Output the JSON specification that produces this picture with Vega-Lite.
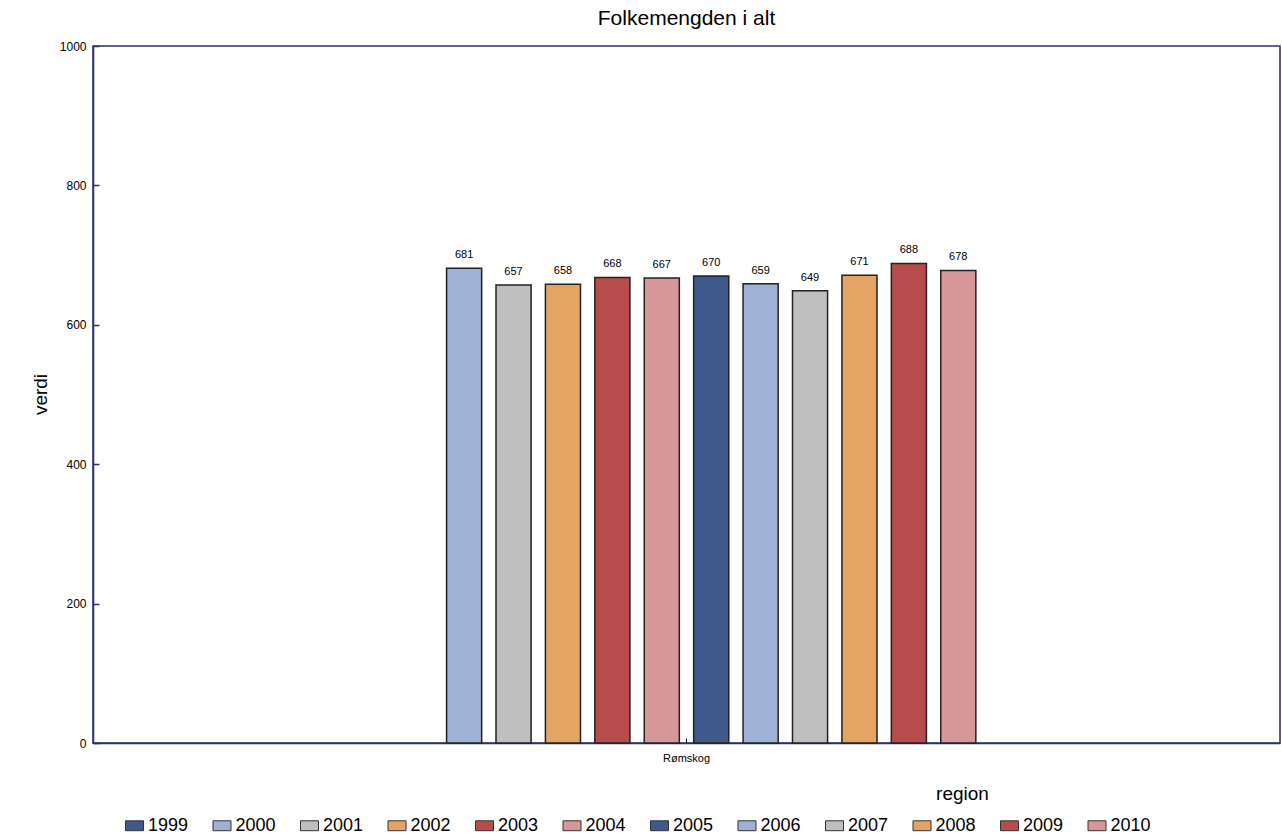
{
  "$schema": "https://vega.github.io/schema/vega-lite/v6.json",
  "width": 1187,
  "height": 697,
  "autosize": {"type": "none"},
  "padding": {"left": 93, "top": 46, "right": 2, "bottom": 92},
  "background": "white",
  "title": {"text": "Folkemengden i alt", "fontSize": 21, "font": "Liberation Sans", "fontWeight": "normal", "color": "#000000", "anchor": "middle", "offset": 11},
  "config": {
    "view": {"stroke": "#2b2f6e", "strokeWidth": 1.5},
    "font": "Liberation Sans",
    "axis": {"grid": false}
  },
  "data": {
    "values": [
      {"region": "Rømskog", "year": "1999", "verdi": null},
      {"region": "Rømskog", "year": "2000", "verdi": 681},
      {"region": "Rømskog", "year": "2001", "verdi": 657},
      {"region": "Rømskog", "year": "2002", "verdi": 658},
      {"region": "Rømskog", "year": "2003", "verdi": 668},
      {"region": "Rømskog", "year": "2004", "verdi": 667},
      {"region": "Rømskog", "year": "2005", "verdi": 670},
      {"region": "Rømskog", "year": "2006", "verdi": 659},
      {"region": "Rømskog", "year": "2007", "verdi": 649},
      {"region": "Rømskog", "year": "2008", "verdi": 671},
      {"region": "Rømskog", "year": "2009", "verdi": 688},
      {"region": "Rømskog", "year": "2010", "verdi": 678}
    ]
  },
  "encoding": {
    "x": {
      "field": "region", "type": "nominal",
      "scale": {"paddingInner": 0, "paddingOuter": 0.5},
      "axis": {
        "title": "region", "titleFontSize": 19, "titleFontWeight": "normal", "titleColor": "#000000",
        "titleX": 869, "titleY": 50, "titleAlign": "center", "titleBaseline": "middle",
        "labelAngle": 0, "labelFontSize": 11, "labelColor": "#000000", "labelPadding": 14,
        "tickSize": -5, "tickColor": "#000000", "domainColor": "#2b2f6e", "domainWidth": 1.5
      }
    },
    "xOffset": {
      "field": "year", "type": "nominal",
      "scale": {"domain": ["1999","2000","2001","2002","2003","2004","2005","2006","2007","2008","2009","2010"], "paddingInner": 0.29, "paddingOuter": 0.15}
    },
    "y": {
      "field": "verdi", "type": "quantitative",
      "scale": {"domain": [0, 1000], "nice": false},
      "axis": {
        "title": "verdi", "titleFontSize": 19, "titleFontWeight": "normal", "titleColor": "#000000",
        "titleX": -53, "titleY": 348, "titleAngle": 270, "titleAlign": "center", "titleBaseline": "middle",
        "values": [0, 200, 400, 600, 800, 1000], "format": "d",
        "labelFontSize": 12, "labelColor": "#000000", "labelPadding": 13,
        "tickSize": -6, "tickColor": "#2b2f6e", "tickWidth": 1.5, "domainColor": "#2b2f6e", "domainWidth": 1.5
      }
    }
  },
  "layer": [
    {
      "mark": {"type": "bar", "stroke": "#222222", "strokeWidth": 1.5},
      "encoding": {
        "color": {
          "field": "year", "type": "nominal",
          "scale": {
            "domain": ["1999","2000","2001","2002","2003","2004","2005","2006","2007","2008","2009","2010"],
            "range": ["#3f5a8a","#9fb1d5","#bfbfbf","#e3a464","#b84c4d","#d59798","#3f5a8a","#9fb1d5","#bfbfbf","#e3a464","#b84c4d","#d59798"]
          },
          "legend": {
            "orient": "none", "legendX": 32, "legendY": 770, "direction": "horizontal", "columns": 12,
            "title": null, "symbolType": "M-1,-0.55H1V0.55H-1Z", "symbolSize": 324, "symbolStrokeColor": "#333333", "symbolStrokeWidth": 1,
            "labelFontSize": 18, "labelColor": "#000000", "labelOffset": 4, "columnPadding": 21.5
          }
        }
      }
    },
    {
      "mark": {"type": "text", "dy": -8, "baseline": "bottom", "fontSize": 11, "color": "#000000"},
      "encoding": {"text": {"field": "verdi", "type": "quantitative"}}
    }
  ]
}
